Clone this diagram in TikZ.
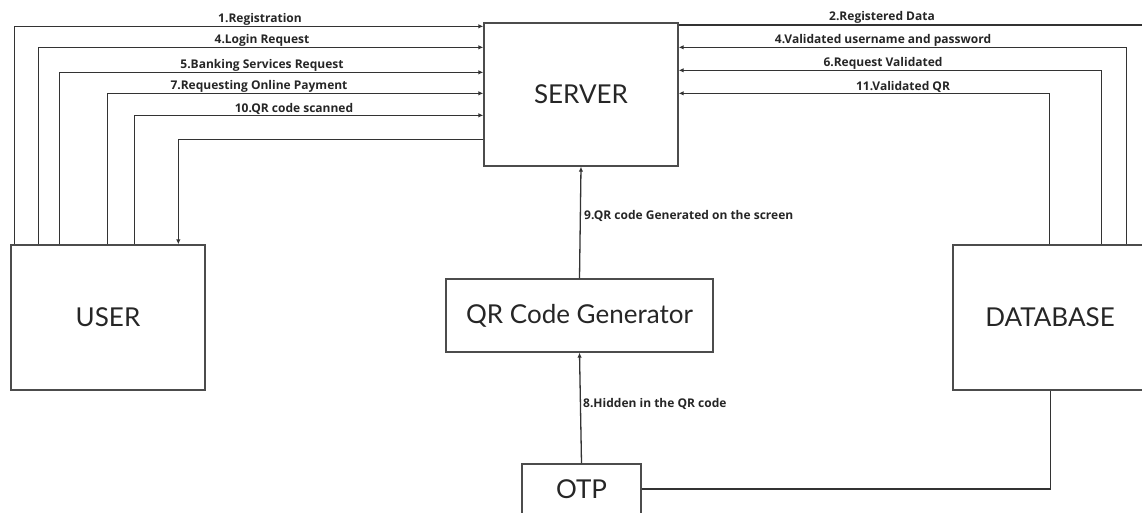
\documentclass[tikz,border=0pt]{standalone}
\usepackage{fontspec}
\setmainfont{Lato}
\newfontfamily\labelfont{Open Sans}
\usetikzlibrary{arrows.meta}
\usetikzlibrary{calc}
\tikzset{>={Latex[length=5pt,width=4.5pt]}}

\begin{document}
\begin{tikzpicture}[x=1pt,y=-1pt,
    block/.style={draw=black!70, line width=1.3pt, inner sep=0pt, text=black!85, font=\fontsize{26}{30}\selectfont},
    flow/.style={draw=black!80, line width=1.3pt},
    lbl/.style={text=black!85, inner sep=1pt, font=\labelfont\bfseries\fontsize{12}{14}\selectfont}]

    \useasboundingbox (0,0) rectangle (1142,513);

    % blocks
    \node[block, minimum width=194pt, minimum height=143pt] (server) at (581,94.5) {SERVER};
    \node[block, minimum width=194pt, minimum height=145pt] (user) at (108,317.5) {USER};
    \node[block, minimum width=194pt, minimum height=145pt] (db) at (1050,317.5) {DATABASE};
    \node[block, minimum width=267pt, minimum height=73pt] (qr) at (579.5,315.5) {QR Code Generator};
    \node[block, minimum width=119pt, minimum height=50pt] (otp) at (581.5,489) {OTP};

    \coordinate (regend) at (1150,25);

    % user -> server
    \draw[flow,->] ($(user.north west)+(4,0)$) |- ($(server.north west)+(0,4)$);
    \draw[flow,->] ($(user.north west)+(28,0)$) |- ($(server.north west)+(0,25)$);
    \draw[flow,->] ($(user.north west)+(49,0)$) |- ($(server.north west)+(0,50)$);
    \draw[flow,->] ($(user.north west)+(97,0)$) |- ($(server.north west)+(0,71)$);
    \draw[flow,->] ($(user.north west)+(124,0)$) |- ($(server.north west)+(0,93)$);
    \draw[flow,->] ($(server.north west)+(0,117)$) -| ($(user.north west)+(168,0)$);

    % server <-> database
    \draw[flow] (server.east |- regend) -- (regend);
    \draw[flow,->] ($(db.north west)+(174,0)$) |- ($(server.north east)+(0,25)$);
    \draw[flow,->] ($(db.north west)+(149,0)$) |- ($(server.north east)+(0,48)$);
    \draw[flow,->] ($(db.north west)+(97,0)$) |- ($(server.north east)+(0,71)$);

    % qr code path
    \draw[flow,->] (qr.north) -- (server.south);
    \draw[flow,->] (otp.north) -- (qr.south);
    \draw[flow] (otp.east) -| ($(db.south west)+(98,0)$);

    % Labels
    \node[lbl, anchor=south] (t1) at (260,27) {1.Registration};
    \node[lbl, anchor=south] (t4) at (262,48) {4.Login Request};
    \node[lbl, anchor=south] (t5) at (262,73) {5.Banking Services Request};
    \node[lbl, anchor=south] (t7) at (259,94) {7.Requesting Online Payment};
    \node[lbl, anchor=south] (t10) at (294,116) {10.QR code scanned};
    \node[lbl, anchor=south] (t2) at (882,25) {2.Registered Data};
    \node[lbl, anchor=south] (t4v) at (883,48) {4.Validated username and password};
    \node[lbl, anchor=south] (t6) at (883,71) {6.Request Validated};
    \node[lbl, anchor=south] (t11) at (903,94) {11.Validated QR};
    \node[lbl, anchor=west] (t9) at (583,216) {9.QR code Generated on the screen};
    \node[lbl, anchor=west] (t8) at (582,404) {8.Hidden in the QR code};
\end{tikzpicture}
\end{document}
